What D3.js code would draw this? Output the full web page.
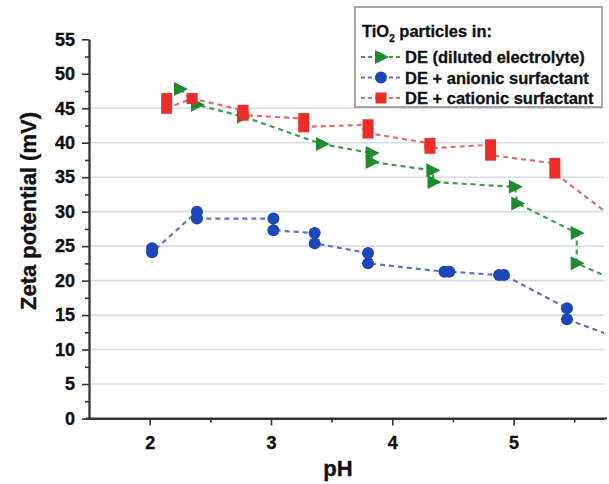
<!DOCTYPE html>
<html>
<head>
<meta charset="utf-8">
<script src="https://cdn.jsdelivr.net/npm/d3@7/dist/d3.min.js"></script>
<style>
  html, body { margin: 0; padding: 0; background: #fff; }
  svg { display: block; font-family: "Liberation Sans", Arial, sans-serif; }
</style>
</head>
<body>
<svg id="chart" width="609" height="484"></svg>
<script>
// ---- Data ----
const yTicks = [0, 5, 10, 15, 20, 25, 30, 35, 40, 45, 50, 55];
const xTicks = [2, 3, 4, 5];
const gridValues = [5, 10, 15, 20, 25, 30, 35, 40, 45];

const seriesNames = ["DE (diluted electrolyte)", "DE + anionic surfactant", "DE + cationic surfactant"];

// DE (diluted electrolyte) - green triangles
const dePH  = [2.25, 2.39, 2.77, 3.42, 3.83, 3.83, 4.33, 4.34, 5.01, 5.03, 5.52, 5.52, 6.0];
const deZ   = [47.8, 45.5, 43.8, 39.8, 38.5, 37.2, 36.0, 34.3, 33.6, 31.2, 26.9, 22.5, 18.8];

// DE + anionic surfactant - blue circles
const anPH  = [2.02, 2.02, 2.39, 2.39, 3.02, 3.02, 3.36, 3.36, 3.80, 3.80, 4.43, 4.47, 4.88, 4.92, 5.44, 5.44, 6.0];
const anZ   = [24.7, 24.1, 30.0, 29.0, 29.0, 27.3, 26.9, 25.4, 24.0, 22.5, 21.3, 21.3, 20.8, 20.8, 16.0, 14.4, 10.7];

// DE + cationic surfactant - red squares
const catPH = [2.14, 2.14, 2.35, 2.77, 2.77, 3.27, 3.27, 3.80, 3.80, 4.31, 4.31, 4.81, 4.81, 5.34, 5.34, 6.0];
const catZ  = [46.4, 45.0, 46.4, 44.7, 44.0, 43.5, 42.3, 42.6, 41.4, 39.9, 39.2, 39.7, 38.2, 37.0, 35.6, 26.7];

// ---- Layout ----
const svg = d3.select("#chart");
const x = d3.scaleLinear().domain([1.5, 5.745]).range([89, 604]);
const y = d3.scaleLinear().domain([0, 55]).range([418.5, 39.3]);

const axisColor = "#333";
const textColor = "#111";

svg.append("defs").append("clipPath").attr("id", "plotclip")
  .append("rect").attr("x", 89).attr("y", 30).attr("width", 515).attr("height", 389);

// gridlines
svg.append("g").selectAll("line").data(gridValues).join("line")
  .attr("x1", x.range()[0]).attr("x2", x.range()[1])
  .attr("y1", d => y(d)).attr("y2", d => y(d))
  .attr("stroke", "#d6dce3").attr("stroke-width", 1.6);

// axes
const yAxis = d3.axisLeft(y).tickValues(yTicks).tickSize(7).tickPadding(7).tickSizeOuter(0);
const yMinor = d3.axisLeft(y).tickValues(d3.range(2.5, 55, 5)).tickSize(4).tickFormat("").tickSizeOuter(0);
const xAxis = d3.axisBottom(x).tickValues(xTicks).tickFormat(d3.format("d")).tickSize(7).tickPadding(11).tickSizeOuter(0);
const xMinor = d3.axisBottom(x).tickValues([2.5, 3.5, 4.5, 5.5]).tickSize(4).tickFormat("").tickSizeOuter(0);

function styleAxis(g) {
  g.select(".domain").attr("stroke", axisColor).attr("stroke-width", 1.8);
  g.selectAll(".tick line").attr("stroke", axisColor).attr("stroke-width", 1.6);
  g.selectAll(".tick text").attr("fill", textColor).style("font-size", "18px").style("font-weight", "bold")
    .style("font-family", "'Liberation Sans', Arial, sans-serif")
    .attr("stroke", textColor).attr("stroke-width", 0.35);
}

svg.append("g").attr("transform", "translate(89,0)").call(yMinor).call(styleAxis);
svg.append("g").attr("transform", "translate(89,0)").call(yAxis).call(styleAxis);
svg.append("g").attr("transform", "translate(0,418.5)").call(xMinor).call(styleAxis);
svg.append("g").attr("transform", "translate(0,418.5)").call(xAxis).call(styleAxis);
svg.append("line").attr("x1", 86).attr("x2", 607).attr("y1", 418.5).attr("y2", 418.5)
  .attr("stroke", axisColor).attr("stroke-width", 1.8);

// axis titles
svg.append("text").attr("x", 338).attr("y", 476).attr("text-anchor", "middle")
  .style("font-size", "22px").style("font-weight", "bold").attr("fill", textColor)
  .attr("stroke", textColor).attr("stroke-width", 0.35).text("pH");
svg.append("text").attr("transform", "translate(36,211) rotate(-90)").attr("text-anchor", "middle")
  .style("font-size", "22px").style("font-weight", "bold").attr("fill", textColor)
  .attr("stroke", textColor).attr("stroke-width", 0.35).text("Zeta potential (mV)");

// series
const series = [
  { name: seriesNames[0], px: dePH, pz: deZ, line: "#3f9d4c", fill: "#1f8a30", shape: "tri" },
  { name: seriesNames[1], px: anPH, pz: anZ, line: "#5b73c9", fill: "#1d46b6", shape: "circle" },
  { name: seriesNames[2], px: catPH, pz: catZ, line: "#e36b6b", fill: "#ec2b2b", shape: "square" }
];

const lineGen = d3.line().x(d => x(d[0])).y(d => y(d[1]));

function drawMarker(g, shape, fill, cx, cy) {
  if (shape === "tri") {
    g.append("path").attr("d", "M-6,-7 L8,0 L-6,7 Z")
      .attr("transform", `translate(${cx},${cy})`).attr("fill", fill);
  } else if (shape === "circle") {
    g.append("circle").attr("cx", cx).attr("cy", cy).attr("r", 6).attr("fill", fill);
  } else {
    g.append("rect").attr("x", cx - 5.5).attr("y", cy - 5.5).attr("width", 11).attr("height", 11).attr("fill", fill);
  }
}

const plot = svg.append("g").attr("clip-path", "url(#plotclip)");
series.forEach(s => {
  const pts = s.px.map((v, i) => [v, s.pz[i]]);
  plot.append("path").datum(pts).attr("d", lineGen)
    .attr("fill", "none").attr("stroke", s.line).attr("stroke-width", 2.2)
    .attr("stroke-dasharray", "5,4");
  const mg = plot.append("g");
  pts.forEach(p => drawMarker(mg, s.shape, s.fill, x(p[0]), y(p[1])));
});

// legend
const lg = svg.append("g");
lg.append("rect").attr("x", 355).attr("y", 7).attr("width", 247).attr("height", 100)
  .attr("fill", "#fff").attr("stroke", "#8a8a8a").attr("stroke-width", 1.5);
const title = lg.append("text").attr("x", 362).attr("y", 37)
  .style("font-size", "16.5px").style("font-weight", "bold").attr("fill", textColor)
  .attr("stroke", textColor).attr("stroke-width", 0.3);
title.append("tspan").text("TiO");
title.append("tspan").attr("dy", 5).style("font-size", "10px").text("2");
title.append("tspan").attr("dy", -5).text(" particles in:");

const rowY = [57, 77.5, 98];
series.forEach((s, i) => {
  const cy = rowY[i];
  lg.append("line").attr("x1", 361).attr("x2", 401).attr("y1", cy).attr("y2", cy)
    .attr("stroke", s.line).attr("stroke-width", 2).attr("stroke-dasharray", "4,3");
  drawMarker(lg, s.shape, s.fill, 381, cy);
  lg.append("text").attr("x", 405).attr("y", cy + 6)
    .style("font-size", "16.5px").style("font-weight", "bold").attr("fill", textColor)
    .attr("stroke", textColor).attr("stroke-width", 0.3).text(s.name);
});
</script>
</body>
</html>
